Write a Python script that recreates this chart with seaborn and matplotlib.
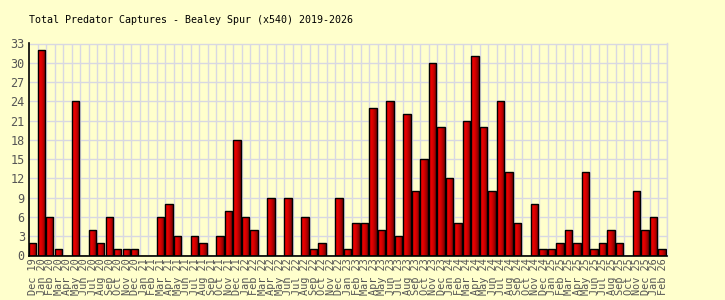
import matplotlib
matplotlib.use("Agg")
import matplotlib.pyplot as plt
import matplotlib.colors as mcolors
import numpy as np
import pandas as pd
import seaborn as sns

months = ["Dec 19",
          "Jan 20", "Feb 20", "Mar 20", "Apr 20", "May 20", "Jun 20", "Jul 20", "Aug 20", "Sep 20", "Oct 20", "Nov 20", "Dec 20",
          "Jan 21", "Feb 21", "Mar 21", "Apr 21", "May 21", "Jun 21", "Jul 21", "Aug 21", "Sep 21", "Oct 21", "Nov 21", "Dec 21",
          "Jan 22", "Feb 22", "Mar 22", "Apr 22", "May 22", "Jun 22", "Jul 22", "Aug 22", "Sep 22", "Oct 22", "Nov 22", "Dec 22",
          "Jan 23", "Feb 23", "Mar 23", "Apr 23", "May 23", "Jun 23", "Jul 23", "Aug 23", "Sep 23", "Oct 23", "Nov 23", "Dec 23",
          "Jan 24", "Feb 24", "Mar 24", "Apr 24", "May 24", "Jun 24", "Jul 24", "Aug 24", "Sep 24", "Oct 24", "Nov 24", "Dec 24",
          "Jan 25", "Feb 25", "Mar 25", "Apr 25", "May 25", "Jun 25", "Jul 25", "Aug 25", "Sep 25", "Oct 25", "Nov 25", "Dec 25",
          "Jan 26", "Feb 26"]
captures = [2,
            32, 6, 1, 0, 24, 0, 4, 2, 6, 1, 1, 1,
            0, 0, 6, 8, 3, 0, 3, 2, 0, 3, 7, 18,
            6, 4, 0, 9, 0, 9, 0, 6, 1, 2, 0, 9,
            1, 5, 5, 23, 4, 24, 3, 22, 10, 15, 30, 20,
            12, 5, 21, 31, 20, 10, 24, 13, 5, 0, 8, 1,
            1, 2, 4, 2, 13, 1, 2, 4, 2, 0, 10, 4,
            6, 1]
yticks = list(range(0, 34, 3))
title = "Total Predator Captures - Bealey Spur (x540) 2019-2026"

BG = "#FFFFCC"
GRID = "#D8D8E2"
TXT = "#555555"
FONT = "DejaVu Sans Mono"

sns.set_theme(style="white")
plt.rcParams["font.family"] = [FONT, "DejaVu Sans"]

df = pd.DataFrame({"month": months, "captures": captures})

fig = plt.figure(figsize=(7.25, 3.0), dpi=100, facecolor=BG)
ax = fig.add_axes([29 / 725, 1 - 255.5 / 300, 638 / 725, 212 / 300])
ax.set_facecolor(BG)

sns.barplot(data=df, x="month", y="captures", color="#CC0000", width=0.87,
            edgecolor="black", linewidth=1.0, ax=ax, zorder=3)

ax.set_xlim(-0.5, len(months) - 0.5)
ax.set_ylim(0, 33)

# gradient fill clipped to each bar
cmap = mcolors.LinearSegmentedColormap.from_list("rg", ["#FF0000", "#D80000", "#7A0000"])
grad = np.linspace(0, 1, 64).reshape(1, -1)
for p in ax.patches:
    p.set_x(p.get_x() - 0.065)
    h = p.get_height()
    if h > 0:
        x0 = p.get_x()
        w = p.get_width()
        im = ax.imshow(grad, cmap=cmap, aspect="auto", extent=(x0, x0 + w, 0, h),
                       zorder=3.5, interpolation="bilinear")
        im.set_clip_path(p)
        p.set_facecolor("none")
        p.set_zorder(4)

ax.set_xlim(-0.5, len(months) - 0.5)
ax.set_ylim(0, 33)

# grid
ax.set_yticks(yticks)
ax.set_yticklabels([str(t) for t in yticks])
ax.set_xticks(np.arange(len(months)) + 0.5, minor=True)
ax.grid(True, which="minor", axis="x", color=GRID, linewidth=1.0, zorder=0)
ax.grid(True, which="major", axis="y", color=GRID, linewidth=1.0, zorder=0)
ax.set_axisbelow(True)

ax.set_xlabel("")
ax.set_ylabel("")
ax.tick_params(axis="x", which="major", length=0, pad=2, labelsize=7.4, labelcolor=TXT, rotation=90)
ax.tick_params(axis="x", which="minor", length=0)
ax.tick_params(axis="y", length=0, pad=3, labelsize=8.5, labelcolor=TXT)
for lab in ax.get_xticklabels():
    lab.set_fontfamily([FONT, "DejaVu Sans"])
    lab.set_verticalalignment("top")

for s in ["left", "bottom"]:
    ax.spines[s].set_color("black")
    ax.spines[s].set_linewidth(1.2)
    ax.spines[s].set_zorder(5)
for s in ["top", "right"]:
    ax.spines[s].set_color(GRID)
    ax.spines[s].set_linewidth(1.0)

fig.text(29 / 725, 1 - 20 / 300, title, fontsize=7.2, color="black",
         family=[FONT, "DejaVu Sans"], ha="left", va="center")

fig.savefig("out.png", dpi=100, facecolor=BG)
